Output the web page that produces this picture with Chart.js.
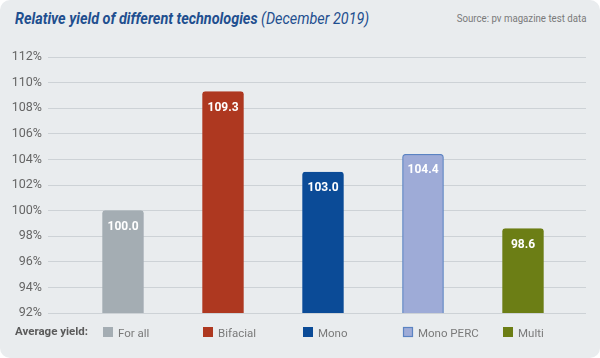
<!DOCTYPE html>
<html>
<head>
<meta charset="utf-8">
<script src="https://cdn.jsdelivr.net/npm/chart.js@4/dist/chart.umd.min.js"></script>
<style>
body { margin: 0; background: #fff; }
#card {
    position: relative;
    width: 600px;
    height: 358px;
    background: #e9ecee;
    border-radius: 10px;
    overflow: hidden;
    font-family: Roboto, sans-serif;
}
#title {
    position: absolute;
    left: 15px;
    top: 9px;
    font-size: 16px;
    font-style: italic;
    color: #1f4f8f;
    white-space: nowrap;
    transform: scaleX(0.9);
    transform-origin: left top;
}
#title b { font-weight: bold; }
#source {
    position: absolute;
    right: 14px;
    top: 12px;
    font-size: 11px;
    color: #7a7a7a;
    white-space: nowrap;
    transform: scaleX(0.88);
    transform-origin: right top;
}
#myChart { position: absolute; left: 0; top: 0; }
</style>
</head>
<body>
<div id="card">
    <div id="title"><b>Relative yield of different technologies</b> (December 2019)</div>
    <div id="source">Source: pv magazine test data</div>
    <canvas id="myChart" width="600" height="358"></canvas>
</div>
<script>
// data
var CATEGORIES = ['For all', 'Bifacial', 'Mono', 'Mono PERC', 'Multi'];
var YIELDS = [100.0, 109.3, 103.0, 104.4, 98.6];
var Y_MIN = 92;
var Y_MAX = 112;
var Y_STEP = 2;

var FONT = 'Roboto, sans-serif';
var FILLS = ['#a4adb3', '#ae3820', '#0b4b97', '#9eabd7', '#6c7e15'];
var BORDERS = ['#a4adb3', '#ae3820', '#0b4b97', '#5b83c2', '#6c7e15'];

// value labels inside the bars + the coloured boxes of the bottom row
const barLabels = {
    id: 'barLabels',
    afterDatasetsDraw: function (chart) {
        var ctx = chart.ctx;
        var meta = chart.getDatasetMeta(0);
        var xs = chart.scales.x;
        var rowY = chart.chartArea.bottom + 19;

        ctx.save();
        ctx.font = 'bold 12px ' + FONT;
        ctx.fillStyle = '#ffffff';
        ctx.textAlign = 'center';
        ctx.textBaseline = 'middle';
        meta.data.forEach(function (bar, i) {
            ctx.fillText(YIELDS[i].toFixed(1), bar.x, bar.y + 16);
        });

        CATEGORIES.forEach(function (c, i) {
            var px = xs.getPixelForValue(i);
            ctx.fillStyle = FILLS[i];
            ctx.fillRect(px - 20, rowY - 5, 10, 10);
            if (BORDERS[i] != FILLS[i]) {
                ctx.strokeStyle = BORDERS[i];
                ctx.lineWidth = 1.2;
                ctx.strokeRect(px - 19.5, rowY - 4.5, 9, 9);
            }
        });

        ctx.font = 'bold 11.5px ' + FONT;
        ctx.fillStyle = '#5a5a5a';
        ctx.textAlign = 'left';
        ctx.fillText('Average yield:', 15, rowY);
        ctx.restore();
    }
};

const ctx = document.getElementById('myChart').getContext('2d');
const myChart = new Chart(ctx, {
    type: 'bar',
    data: {
        datasets: [{
            data: YIELDS.map(function (v, i) { return {x: i, y: v}; }),
            backgroundColor: FILLS,
            borderColor: BORDERS,
            borderWidth: 1.2,
            borderRadius: {topLeft: 3, topRight: 3},
            borderSkipped: 'bottom',
            barThickness: 41
        }]
    },
    options: {
        responsive: false,
        animation: false,
        layout: {
            padding: {left: 0, right: 14, top: 57, bottom: 14}
        },
        plugins: {
            legend: {display: false},
            tooltip: {enabled: false}
        },
        scales: {
            x: {
                type: 'linear',
                offset: false,
                min: -0.75,
                max: 4.63,
                grid: {display: false},
                border: {display: false},
                afterBuildTicks: function (scale) {
                    scale.ticks = CATEGORIES.map(function (c, i) { return {value: i}; });
                },
                afterFit: function (scale) {
                    scale.height = 31;
                },
                ticks: {
                    align: 'start',
                    labelOffset: -5,
                    padding: 6,
                    color: '#7a7a7a',
                    font: {family: FONT, size: 11.5},
                    callback: function (value) { return CATEGORIES[value]; }
                }
            },
            y: {
                min: Y_MIN,
                max: Y_MAX,
                afterFit: function (scale) {
                    scale.width = 48;
                },
                grid: {color: '#cdd2d6', lineWidth: 1, drawTicks: false},
                border: {display: false},
                ticks: {
                    stepSize: Y_STEP,
                    padding: 6,
                    color: '#666666',
                    font: {family: FONT, size: 12.5},
                    callback: function (value) { return value + '%'; }
                }
            }
        }
    },
    plugins: [barLabels]
});
</script>
</body>
</html>
